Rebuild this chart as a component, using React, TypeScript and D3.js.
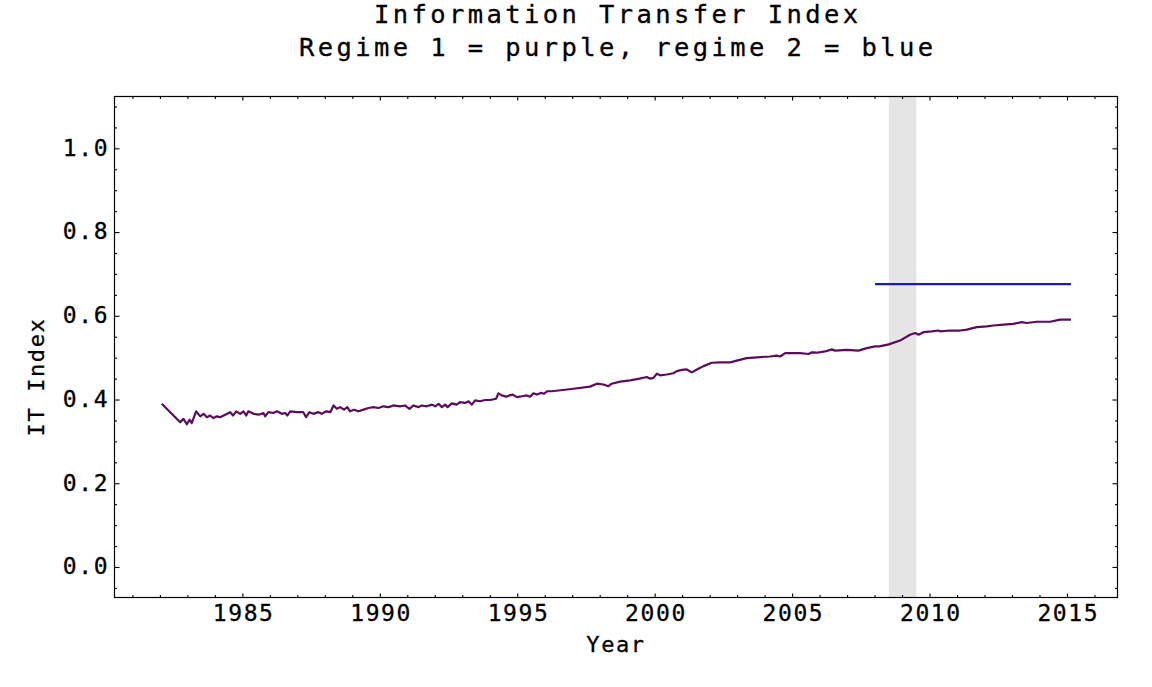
import React, { useEffect, useRef } from 'react';
import * as d3 from 'd3';

// Regime 1 (purple) readings: decimal year, IT index
const regime1Years = [
  1982.05, 1982.72, 1982.84, 1982.96, 1983.06, 1983.14, 1983.3, 1983.45, 1983.57, 1983.69,
  1983.81, 1983.93, 1984.05, 1984.17, 1984.36, 1984.54, 1984.64, 1984.76, 1984.9, 1985.02,
  1985.12, 1985.2, 1985.39, 1985.57, 1985.75, 1985.81, 1985.93, 1986.11, 1986.24, 1986.42,
  1986.54, 1986.62, 1986.72, 1986.96, 1987.2, 1987.3, 1987.42, 1987.57, 1987.75, 1987.87,
  1988.03, 1988.18, 1988.3, 1988.42, 1988.54, 1988.68, 1988.8, 1988.9, 1989.05, 1989.2,
  1989.39, 1989.57, 1989.75, 1989.93, 1990.11, 1990.3, 1990.48, 1990.72, 1990.9, 1991.06,
  1991.21, 1991.39, 1991.51, 1991.69, 1991.88, 1992.0, 1992.12, 1992.24, 1992.36, 1992.45,
  1992.6, 1992.78, 1992.9, 1993.09, 1993.21, 1993.33, 1993.45, 1993.63, 1993.81, 1994.0,
  1994.21, 1994.3, 1994.42, 1994.58, 1994.7, 1994.82, 1994.97, 1995.15, 1995.33, 1995.45,
  1995.57, 1995.7, 1995.84, 1995.96, 1996.08, 1996.24, 1997.03, 1997.63, 1997.88, 1998.12,
  1998.3, 1998.42, 1998.73, 1999.09, 1999.43, 1999.7, 1999.82, 1999.94, 2000.06, 2000.18,
  2000.42, 2000.66, 2000.79, 2000.97, 2001.15, 2001.33, 2001.52, 2001.76, 2002.06, 2002.36,
  2002.73, 2002.97, 2003.33, 2003.7, 2004.18, 2004.42, 2004.55, 2004.73, 2004.91, 2005.27,
  2005.58, 2005.7, 2005.88, 2006.18, 2006.43, 2006.55, 2006.97, 2007.39, 2007.7, 2008.0,
  2008.16, 2008.5, 2008.91, 2009.27, 2009.46, 2009.58, 2009.76, 2010.06, 2010.3, 2010.37,
  2010.73, 2011.1, 2011.34, 2011.7, 2012.07, 2012.3, 2012.67, 2013.03, 2013.34, 2013.52,
  2013.88, 2014.37, 2014.73, 2015.13,
];
const regime1Values = [
  0.391, 0.347, 0.355, 0.342, 0.353, 0.345, 0.373, 0.361, 0.367, 0.359,
  0.363, 0.357, 0.361, 0.359, 0.365, 0.371, 0.363, 0.373, 0.367, 0.373,
  0.363, 0.373, 0.367, 0.365, 0.369, 0.361, 0.371, 0.369, 0.373, 0.367,
  0.369, 0.363, 0.373, 0.371, 0.371, 0.359, 0.371, 0.367, 0.371, 0.367,
  0.373, 0.371, 0.387, 0.379, 0.383, 0.377, 0.383, 0.373, 0.377, 0.373,
  0.377, 0.381, 0.383, 0.381, 0.385, 0.383, 0.387, 0.385, 0.387, 0.379,
  0.387, 0.383, 0.387, 0.385, 0.389, 0.385, 0.391, 0.383, 0.389, 0.383,
  0.392, 0.389, 0.395, 0.393, 0.397, 0.389, 0.399, 0.397, 0.4, 0.4,
  0.403, 0.416, 0.411, 0.408, 0.411, 0.413, 0.407, 0.409, 0.411, 0.408,
  0.416, 0.413, 0.417, 0.415, 0.421, 0.421, 0.427, 0.432, 0.439, 0.437,
  0.433, 0.439, 0.444, 0.447, 0.451, 0.455, 0.451, 0.453, 0.463, 0.459,
  0.461, 0.464, 0.469, 0.472, 0.473, 0.466, 0.473, 0.481, 0.489, 0.49,
  0.49, 0.494, 0.5, 0.502, 0.504, 0.506, 0.504, 0.512, 0.512, 0.512,
  0.51, 0.514, 0.513, 0.516, 0.521, 0.518, 0.52, 0.518, 0.524, 0.528,
  0.528, 0.533, 0.542, 0.556, 0.56, 0.556, 0.562, 0.564, 0.566, 0.564,
  0.566, 0.566, 0.568, 0.574, 0.576, 0.578, 0.58, 0.582, 0.586, 0.584,
  0.587, 0.587, 0.592, 0.592,
];

// Regime 2 (blue) is a flat level
const regime2Years = [2008.0, 2015.13];
const regime2Values = [0.677, 0.677];

// Shaded recession band
const recession = [2008.5, 2009.5];

const xTickYears = [1985, 1990, 1995, 2000, 2005, 2010, 2015];
const yTickValues = [0.0, 0.2, 0.4, 0.6, 0.8, 1.0];

const titleLines = ['Information Transfer Index', 'Regime 1 = purple, regime 2 = blue'];

const W = 1152;
const H = 687;
const FONT = '"DejaVu Sans Mono", monospace';

export default function App() {
  const svgRef = useRef<SVGSVGElement>(null);

  useEffect(() => {
    if (!svgRef.current) return;
    const svg = d3.select(svgRef.current);
    svg.selectAll('*').remove();

    const left = 114.5;
    const right = 1117.5;
    const top = 96.5;
    const bottom = 597.5;

    const x = d3.scaleLinear().domain([1980.33, 2016.82]).range([left, right]);
    const y = d3.scaleLinear().domain([-0.0717, 1.125]).range([bottom, top]);

    // Recession band
    svg.append('rect')
      .attr('x', x(recession[0]))
      .attr('y', top)
      .attr('width', x(recession[1]) - x(recession[0]))
      .attr('height', bottom - top)
      .attr('fill', '#e5e5e5');

    const line = d3.line<[number, number]>()
      .x(d => x(d[0]))
      .y(d => y(d[1]));

    const r1 = regime1Years.map((yr, i) => [yr, regime1Values[i]] as [number, number]);
    const r2 = regime2Years.map((yr, i) => [yr, regime2Values[i]] as [number, number]);

    svg.append('path')
      .attr('d', line(r2))
      .attr('fill', 'none')
      .attr('stroke', '#1c1ca8')
      .attr('stroke-width', 2.2);

    svg.append('path')
      .attr('d', line(r1))
      .attr('fill', 'none')
      .attr('stroke', '#5c0c5c')
      .attr('stroke-width', 2.2)
      .attr('stroke-linejoin', 'round');

    // Frame
    svg.append('rect')
      .attr('x', left)
      .attr('y', top)
      .attr('width', right - left)
      .attr('height', bottom - top)
      .attr('fill', 'none')
      .attr('stroke', '#000')
      .attr('stroke-width', 1.2);

    // Ticks on all four sides, pointing inward
    const minorX = d3.range(1981, 2017).filter(v => !xTickYears.includes(v));
    const minorY = d3.range(-1, 23).map(k => k * 0.05)
      .filter(v => !yTickValues.some(t => Math.abs(t - v) < 1e-6));

    const ticks = svg.append('g').attr('stroke', '#000').attr('stroke-width', 1.1);
    const xt = (vals: number[], len: number) => {
      vals.forEach(v => {
        const px = x(v);
        ticks.append('line').attr('x1', px).attr('x2', px).attr('y1', bottom).attr('y2', bottom - len);
        ticks.append('line').attr('x1', px).attr('x2', px).attr('y1', top).attr('y2', top + len);
      });
    };
    const yt = (vals: number[], len: number) => {
      vals.forEach(v => {
        const py = y(v);
        ticks.append('line').attr('x1', left).attr('x2', left + len).attr('y1', py).attr('y2', py);
        ticks.append('line').attr('x1', right).attr('x2', right - len).attr('y1', py).attr('y2', py);
      });
    };
    xt(xTickYears, 4);
    xt(minorX, 2.5);
    yt(yTickValues, 5);
    yt(minorY, 2.5);

    const textStyle = (sel: d3.Selection<SVGTextElement, unknown, null, undefined>, size: number, spacing: number) =>
      sel.style('font-family', FONT)
        .style('font-size', `${size}px`)
        .style('letter-spacing', `${spacing}px`)
        .attr('fill', '#000')
        .attr('stroke', '#000')
        .attr('stroke-width', 0.3);

    // X tick labels
    xTickYears.forEach(v => {
      textStyle(svg.append('text'), 23, 1.6)
        .attr('x', x(v) + 0.8)
        .attr('y', 620.5)
        .attr('text-anchor', 'middle')
        .text(String(v));
    });

    // Y tick labels
    yTickValues.forEach(v => {
      textStyle(svg.append('text'), 23, 1.6)
        .attr('x', 107.5 + 1.6)
        .attr('y', y(v))
        .attr('dy', '0.3em')
        .attr('text-anchor', 'end')
        .text(d3.format('.1f')(v));
    });

    // Axis titles
    textStyle(svg.append('text'), 22, 1.6)
      .attr('x', 616)
      .attr('y', 652)
      .attr('text-anchor', 'middle')
      .text('Year');

    textStyle(svg.append('text'), 22, 1.6)
      .attr('transform', `translate(44,377) rotate(-90)`)
      .attr('text-anchor', 'middle')
      .text('IT Index');

    // Title
    titleLines.forEach((t, i) => {
      textStyle(svg.append('text'), 25.5, 3.4)
        .attr('x', 616 + 1.7)
        .attr('y', 22.5 + i * 33)
        .attr('text-anchor', 'middle')
        .text(t);
    });
  }, []);

  return (
    <svg
      ref={svgRef}
      width={W}
      height={H}
      style={{ position: 'absolute', left: 0, top: 0, background: '#fff' }}
    />
  );
}
